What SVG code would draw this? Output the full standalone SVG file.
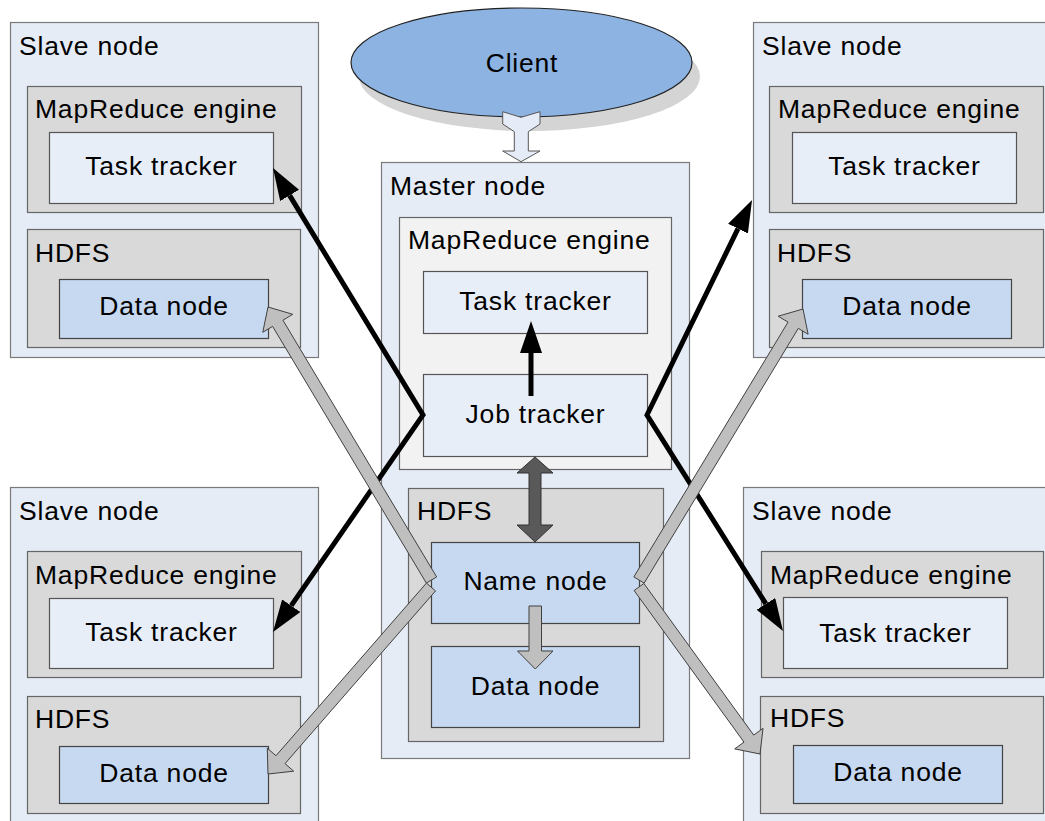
<svg xmlns="http://www.w3.org/2000/svg" width="1045" height="821" viewBox="0 0 1045 821">
<defs>
<style>
text{font-family:"Liberation Sans",Arial,sans-serif;font-size:26.5px;letter-spacing:0.8px;fill:#000}
.c{text-anchor:middle}
.outer{fill:#e5ecf6;stroke:#7a7a7a;stroke-width:1.2}
.grey{fill:#d9d9d9;stroke:#666;stroke-width:1.2}
.light{fill:#f2f2f2;stroke:#666;stroke-width:1.2}
.tt{fill:#e8eef8;stroke:#555;stroke-width:1.2}
.dn{fill:#c6d9f0;stroke:#444;stroke-width:1.2}
.blk{fill:none;stroke:#000;stroke-width:5;stroke-linejoin:miter;stroke-miterlimit:10}
.garr{fill:#bfbfbf;stroke:#404040;stroke-width:1}
</style>
<marker id="ah" markerUnits="userSpaceOnUse" markerWidth="32" markerHeight="22" viewBox="0 0 32 22" refX="0" refY="11" orient="auto-start-reverse">
<path d="M0,0 L32,11 L0,22 z" fill="#000"/>
</marker>
</defs>

<g id="client">
<ellipse cx="529.5" cy="76.5" rx="170.5" ry="54.5" fill="#d4d4d4"/>
<ellipse cx="521.5" cy="62.5" rx="170.5" ry="54.5" fill="#8db3e2" stroke="#222" stroke-width="1.2"/>
<text class="c" x="522" y="72">Client</text>
</g>

<g id="slave-top-left">
<rect class="outer" x="10.5" y="22.5" width="308" height="335"/>
<text x="19" y="55">Slave node</text>
<rect class="grey" x="27.5" y="86.5" width="274" height="126"/>
<text x="35" y="118">MapReduce engine</text>
<rect class="tt" x="49.5" y="132.5" width="224" height="71"/>
<text class="c" x="161.5" y="175">Task tracker</text>
<rect class="grey" x="27.5" y="229.5" width="273" height="118"/>
<text x="35" y="262">HDFS</text>
<rect class="dn" x="59.5" y="279.5" width="209" height="59"/>
<text class="c" x="164" y="315">Data node</text>
</g>

<g id="slave-top-right">
<rect class="outer" x="753.5" y="22.5" width="320" height="335"/>
<text x="762" y="55">Slave node</text>
<rect class="grey" x="769.5" y="86.5" width="274" height="126"/>
<text x="778" y="118">MapReduce engine</text>
<rect class="tt" x="792.5" y="132.5" width="224" height="71"/>
<text class="c" x="904.5" y="175">Task tracker</text>
<rect class="grey" x="769.5" y="229.5" width="274" height="118"/>
<text x="777" y="262">HDFS</text>
<rect class="dn" x="802.5" y="279.5" width="209" height="59"/>
<text class="c" x="907" y="315">Data node</text>
</g>

<g id="slave-bottom-left">
<rect class="outer" x="10.5" y="487.5" width="308" height="350"/>
<text x="19" y="520">Slave node</text>
<rect class="grey" x="27.5" y="551.5" width="274" height="126"/>
<text x="35" y="584">MapReduce engine</text>
<rect class="tt" x="49.5" y="598.5" width="224" height="70"/>
<text class="c" x="161.5" y="641">Task tracker</text>
<rect class="grey" x="27.5" y="696.5" width="273" height="117"/>
<text x="35" y="728">HDFS</text>
<rect class="dn" x="59.5" y="746.5" width="209" height="57"/>
<text class="c" x="164" y="782">Data node</text>
</g>

<g id="slave-bottom-right">
<rect class="outer" x="743.5" y="487.5" width="320" height="350"/>
<text x="752" y="520">Slave node</text>
<rect class="grey" x="761.5" y="551.5" width="282" height="126"/>
<text x="770" y="584">MapReduce engine</text>
<rect class="tt" x="783.5" y="597.5" width="224" height="71"/>
<text class="c" x="895.5" y="642">Task tracker</text>
<rect class="grey" x="760.5" y="696.5" width="283" height="117"/>
<text x="770" y="727">HDFS</text>
<rect class="dn" x="793.5" y="745.5" width="209" height="58"/>
<text class="c" x="898" y="781">Data node</text>
</g>

<g id="master-node">
<rect class="outer" x="381.5" y="162.5" width="308" height="596"/>
<text x="390" y="195">Master node</text>
<rect class="light" x="399.5" y="217.5" width="272" height="252"/>
<text x="408" y="249">MapReduce engine</text>
<rect class="tt" x="423.5" y="271.5" width="224" height="62"/>
<text class="c" x="535.5" y="310">Task tracker</text>
<rect class="tt" x="423.5" y="374.5" width="224" height="82"/>
<text class="c" x="535.5" y="423">Job tracker</text>
<rect class="grey" x="408.5" y="488.5" width="255" height="253"/>
<text x="417" y="520">HDFS</text>
<rect class="dn" x="431.5" y="542.5" width="208" height="81"/>
<text class="c" x="535.5" y="590">Name node</text>
<rect class="dn" x="431.5" y="646.5" width="208" height="81"/>
<text class="c" x="535.5" y="695">Data node</text>
</g>

<g id="connectors">
<polygon points="502.7,111.7 521,117.3 540,111.7 540,124 528.3,131.7 528.3,151 540,151 521,161.7 502.7,151 514.3,151 514.3,131.7 502.7,124" fill="#e6ecf7" stroke="#555" stroke-width="1"/>
<polygon points="535,457 553,473 541,473 541,525 553,525 535,542 517,525 529,525 529,473 517,473" fill="#595959" stroke="#333" stroke-width="1"/>
<polygon class="garr" points="529,606 541.5,606 541.5,651 553,651 535.3,669 517.5,651 529,651"/>
<path class="blk" d="M531,396 L531,353" marker-end="url(#ah)"/>
<path class="blk" d="M289.6,195.4 L423,415 L291.2,605.7" marker-start="url(#ah)" marker-end="url(#ah)"/>
<path class="blk" d="M738,228.7 L647,415 L765.9,603.9" marker-start="url(#ah)" marker-end="url(#ah)"/>
<polygon class="garr" points="436.65,576.92 282.91,320.22 292.77,314.31 268,307 262.75,332.29 272.61,326.38 426.35,583.08"/>
<polygon class="garr" points="426.48,583.06 275.96,755.74 267.29,748.18 268,774 293.67,771.18 285,763.62 435.52,590.94"/>
<polygon class="garr" points="644.13,583.11 798.29,328.36 808.13,334.31 803,309 778.19,316.19 788.03,322.14 633.87,576.89"/>
<polygon class="garr" points="634.14,590.52 743.99,742.13 734.68,748.88 760,754 763.02,728.34 753.71,735.09 643.86,583.48"/>
</g>
</svg>
